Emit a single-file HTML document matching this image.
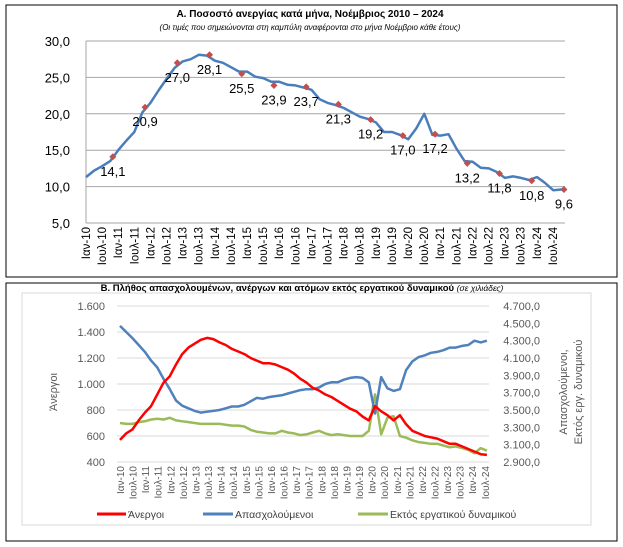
<!DOCTYPE html>
<html><head><meta charset="utf-8">
<style>
html,body{margin:0;padding:0;background:#fff;}
svg{display:block;font-family:"Liberation Sans","DejaVu Sans",sans-serif;}
</style></head>
<body>
<svg id="svg" width="623" height="547" viewBox="0 0 623 547">
<rect x="6" y="5" width="611" height="272" fill="#fff" stroke="#000" stroke-width="1"/>
<rect x="6" y="283" width="611" height="258" fill="#fff" stroke="#000" stroke-width="1"/>
<rect x="22" y="293" width="569" height="232" fill="none" stroke="#d9d9d9" stroke-width="1"/>
<text x="310" y="17" text-anchor="middle" font-size="10" font-weight="bold">Α. Ποσοστό ανεργίας κατά μήνα, Νοέμβριος 2010 – 2024</text>
<text x="310" y="30" text-anchor="middle" font-size="8" font-style="italic">(Οι τιμές που σημειώνονται στη καμπύλη αναφέρονται στο μήνα Νοέμβριο κάθε έτους)</text>
<text x="302" y="291" text-anchor="middle" font-size="9.5" font-weight="bold">Β. Πλήθος απασχολουμένων, ανέργων και ατόμων εκτός εργατικού δυναμικού <tspan font-weight="normal" font-style="italic" font-size="8.5">(σε χιλιάδες)</tspan></text>
<g id="top"></g>
<g id="bot"></g>
<text transform="translate(57,392) rotate(-90)" text-anchor="middle" font-size="11" fill="#595959">Άνεργοι</text>
<text transform="translate(567,392) rotate(-90)" text-anchor="middle" font-size="11" fill="#595959">Απασχολούμενοι,</text>
<text transform="translate(582,392) rotate(-90)" text-anchor="middle" font-size="11" fill="#595959">Εκτός εργ. δυναμικού</text>
<g>
<line x1="97" y1="514" x2="126" y2="514" stroke="#ff0000" stroke-width="3"/>
<text x="128" y="518" font-size="10.5" fill="#404040">Άνεργοι</text>
<line x1="203" y1="514" x2="233" y2="514" stroke="#4f81bd" stroke-width="3"/>
<text x="235" y="518" font-size="10.5" fill="#404040">Απασχολούμενοι</text>
<line x1="358" y1="514" x2="388" y2="514" stroke="#9bbb59" stroke-width="3"/>
<text x="390" y="518" font-size="10.5" fill="#404040">Εκτός εργατικού δυναμικού</text>
</g>
</svg>
<script>
const NS="http://www.w3.org/2000/svg";
const xLabels=[];for(let y=10;y<=24;y++){xLabels.push("Ιαν-"+y);xLabels.push("Ιουλ-"+y);}
const topTicks=[5,10,15,20,25,30];
const topRate=[11.3,12.2,12.8,13.5, 15.0,16.3,17.5,20.2, 21.5,23.2,24.8,26.3, 27.2,27.5,28.1,28.0, 27.3,27.0,26.4,25.8, 25.8,25.1,24.9,24.4, 24.4,24.0,23.9,23.6, 23.3,22.0,21.5,21.2, 20.8,20.2,19.6,19.3, 18.8,17.5,17.5,17.1, 16.5,18.0,20.0,17.1, 17.0,17.2,15.2,13.5, 13.4,12.6,12.5,12.0, 11.2,11.4,11.2,10.9, 11.3,10.5,9.5,9.6];
const novRate=[14.1,20.9,27.0,28.1,25.5,23.9,23.7,21.3,19.2,17.0,17.2,13.2,11.8,10.8,9.6];
const leftTicks=[400,600,800,1000,1200,1400,1600];
const rightTicks=[2900,3100,3300,3500,3700,3900,4100,4300,4500,4700];
const unemployed=[570,620,650,720, 780,830,920,1010, 1060,1150,1230,1280, 1310,1340,1355,1345, 1320,1300,1270,1250, 1230,1200,1180,1160, 1160,1150,1130,1110, 1080,1040,1010,970, 950,920,900,870, 840,810,790,750, 720,830,790,760, 720,760,690,640, 620,600,590,580, 560,540,540,520, 500,480,460,455];
const employed=[4470,4400,4330,4250, 4170,4070,3990,3860, 3740,3610,3550,3520, 3490,3470,3480,3490, 3500,3520,3540,3540, 3560,3600,3640,3630, 3650,3660,3670,3690, 3710,3730,3740,3740, 3760,3800,3820,3820, 3850,3870,3880,3870, 3820,3460,3880,3750, 3720,3740,3960,4060, 4110,4130,4160,4170, 4190,4220,4220,4240, 4250,4300,4280,4300];
const inactive=[3350,3340,3340,3360, 3370,3390,3400,3390, 3410,3380,3370,3360, 3350,3340,3340,3340, 3340,3330,3320,3320, 3310,3270,3250,3240, 3230,3230,3260,3240, 3230,3210,3220,3240, 3260,3230,3210,3220, 3210,3200,3200,3200, 3260,3680,3220,3410, 3430,3200,3180,3150, 3130,3120,3110,3110, 3090,3070,3080,3060, 3040,3000,3060,3030];

function mk(tag,attrs,parent,text){const e=document.createElementNS(NS,tag);for(const k in attrs)e.setAttribute(k,attrs[k]);if(text!==undefined)e.textContent=text;parent.appendChild(e);return e;}
const fmt1=v=>v.toFixed(1).replace(".",",");
const fmtK=v=>{const s=String(v);return s.length>3?s.slice(0,-3)+"."+s.slice(-3):s;};

// ---------- chart A ----------
const T=document.getElementById("top");
const ax=m=>86+m*2.685, ay=v=>41+(30-v)*7.28;
topTicks.forEach(t=>{
  const l=mk("line",{x1:86,x2:565,y1:ay(t),y2:ay(t),stroke:"#a6a6a6","stroke-width":1},T);
  
  
  const tx=mk("text",{x:70,y:ay(t)+5,"text-anchor":"end","font-size":13},T,fmt1(t));
  
  
});
const yax=mk("line",{x1:86,x2:86,y1:ay(30),y2:ay(5),stroke:"#a6a6a6"},T);


xLabels.forEach((s,i)=>{
  const x=86+i*16.1;
  const tx=mk("text",{transform:`translate(${x+4},${ay(5)+4}) rotate(-90)`,"text-anchor":"end","font-size":11.5},T,s);
  
  
});
let d="";topRate.forEach((v,i)=>{d+=(i?"L":"M")+ax(i*3).toFixed(1)+","+ay(v).toFixed(1);});
d+="L"+ax(178)+","+ay(novRate[novRate.length-1]);
const pa=mk("path",{d:d,fill:"none",stroke:"#4a7ebb","stroke-width":2.5,"stroke-linejoin":"round"},T);


novRate.forEach((v,k)=>{
  const x=ax(10+12*k),y=ay(v);
  const m=mk("rect",{x:x-2.5,y:y-2.5,width:5,height:5,fill:"#c0504d",transform:`rotate(45 ${x} ${y})`},T);
  
  
  const tx=mk("text",{x:x,y:y+19,"text-anchor":"middle","font-size":13},T,fmt1(v));
  
  
});

// ---------- chart B ----------
const B=document.getElementById("bot");
const bx=m=>120+m*2.073, ly=v=>306+(1600-v)*0.13, ry=v=>306+(4700-v)*156/1800;
leftTicks.forEach(t=>{
  const l=mk("line",{x1:117,x2:489,y1:ly(t),y2:ly(t),stroke:"#d9d9d9","stroke-width":1},B);
  
  
  const tx=mk("text",{x:105,y:ly(t)+4,"text-anchor":"end","font-size":11,fill:"#595959"},B,fmtK(t));
  
  
});
rightTicks.forEach(t=>{
  const tx=mk("text",{x:540,y:ry(t)+4,"text-anchor":"end","font-size":11,fill:"#595959"},B,fmtK(t)+",0");
  
  
});
xLabels.forEach((s,i)=>{
  const x=120+i*12.58;
  const tx=mk("text",{transform:`translate(${x+4},${ly(400)+4}) rotate(-90)`,"text-anchor":"end","font-size":10,fill:"#595959"},B,s);
  
  
});
function series(arr,yf,col,name){
  let d="";arr.forEach((v,i)=>{d+=(i?"L":"M")+bx(i*3).toFixed(1)+","+yf(v).toFixed(1);});
  const p=mk("path",{d:d,fill:"none",stroke:col,"stroke-width":2.5,"stroke-linejoin":"round"},B);
  
  
}
series(inactive,ry,"#9bbb59","inactive-line");
series(employed,ry,"#4f81bd","employed-line");
series(unemployed,ly,"#ff0000","unemployed-line");
</script>
</body></html>
